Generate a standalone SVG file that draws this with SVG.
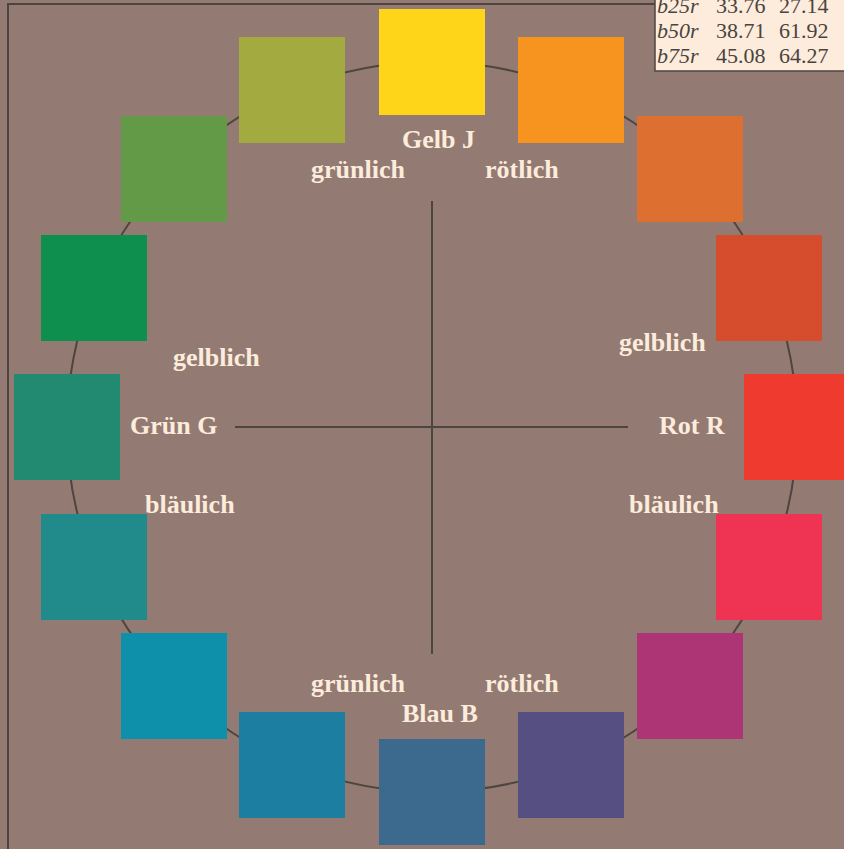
<svg xmlns="http://www.w3.org/2000/svg" width="844" height="849" viewBox="0 0 844 849">
<style>
.lbl{font-family:"Liberation Serif","Times New Roman",serif;font-weight:bold;font-size:26px;fill:#fdecdc}
.tb{font-family:"Liberation Serif","Times New Roman",serif;font-size:22px;fill:#4a4440}
.tb .i{font-style:italic}
.ln{stroke:#4d4540;stroke-width:2;fill:none}
</style>
<rect x="0" y="0" width="844" height="849" fill="#937b73"/>
<path d="M8 860 V4 H860" class="ln"/>
<g id="connectors">
<circle cx="432" cy="427" r="365" class="ln"/>
<line x1="235" y1="427" x2="628" y2="427" class="ln"/>
<line x1="432" y1="201" x2="432" y2="654" class="ln"/>
</g>
<g id="n0"><rect x="379" y="9" width="106" height="106" fill="#fed518"/></g>
<g id="n1"><rect x="518" y="37" width="106" height="106" fill="#f7941f"/></g>
<g id="n2"><rect x="637" y="116" width="106" height="106" fill="#dd6f30"/></g>
<g id="n3"><rect x="716" y="235" width="106" height="106" fill="#d54d2d"/></g>
<g id="n4"><rect x="744" y="374" width="106" height="106" fill="#ee3a2f"/></g>
<g id="n5"><rect x="716" y="514" width="106" height="106" fill="#ee3353"/></g>
<g id="n6"><rect x="637" y="633" width="106" height="106" fill="#ad3575"/></g>
<g id="n7"><rect x="518" y="712" width="106" height="106" fill="#564f81"/></g>
<g id="n8"><rect x="379" y="739" width="106" height="106" fill="#3b6a8e"/></g>
<g id="n9"><rect x="239" y="712" width="106" height="106" fill="#1c7fa1"/></g>
<g id="n10"><rect x="121" y="633" width="106" height="106" fill="#0e90ab"/></g>
<g id="n11"><rect x="41" y="514" width="106" height="106" fill="#218b8c"/></g>
<g id="n12"><rect x="14" y="374" width="106" height="106" fill="#228a70"/></g>
<g id="n13"><rect x="41" y="235" width="106" height="106" fill="#0f8f4e"/></g>
<g id="n14"><rect x="121" y="116" width="106" height="106" fill="#629a48"/></g>
<g id="n15"><rect x="239" y="37" width="106" height="106" fill="#a3ab40"/></g>
<g id="labels">
<text class="lbl" x="402" y="148">Gelb J</text>
<text class="lbl" x="311" y="178">grünlich</text>
<text class="lbl" x="485" y="178">rötlich</text>
<text class="lbl" x="173" y="366">gelblich</text>
<text class="lbl" x="619" y="351">gelblich</text>
<text class="lbl" x="130" y="434">Grün G</text>
<text class="lbl" x="659" y="434">Rot R</text>
<text class="lbl" x="145" y="513">bläulich</text>
<text class="lbl" x="629" y="513">bläulich</text>
<text class="lbl" x="311" y="692">grünlich</text>
<text class="lbl" x="485" y="692">rötlich</text>
<text class="lbl" x="402" y="722">Blau B</text>
</g>
<g id="table">
<rect x="655" y="-20" width="200" height="91" fill="#fdecdc" stroke="#4d4540" stroke-width="1.5"/>
<text class="tb" y="13"><tspan class="i" x="657">b25r</tspan><tspan x="716">33.76</tspan><tspan x="779">27.14</tspan></text>
<text class="tb" y="38"><tspan class="i" x="657">b50r</tspan><tspan x="716">38.71</tspan><tspan x="779">61.92</tspan></text>
<text class="tb" y="63"><tspan class="i" x="657">b75r</tspan><tspan x="716">45.08</tspan><tspan x="779">64.27</tspan></text>
</g>
</svg>
